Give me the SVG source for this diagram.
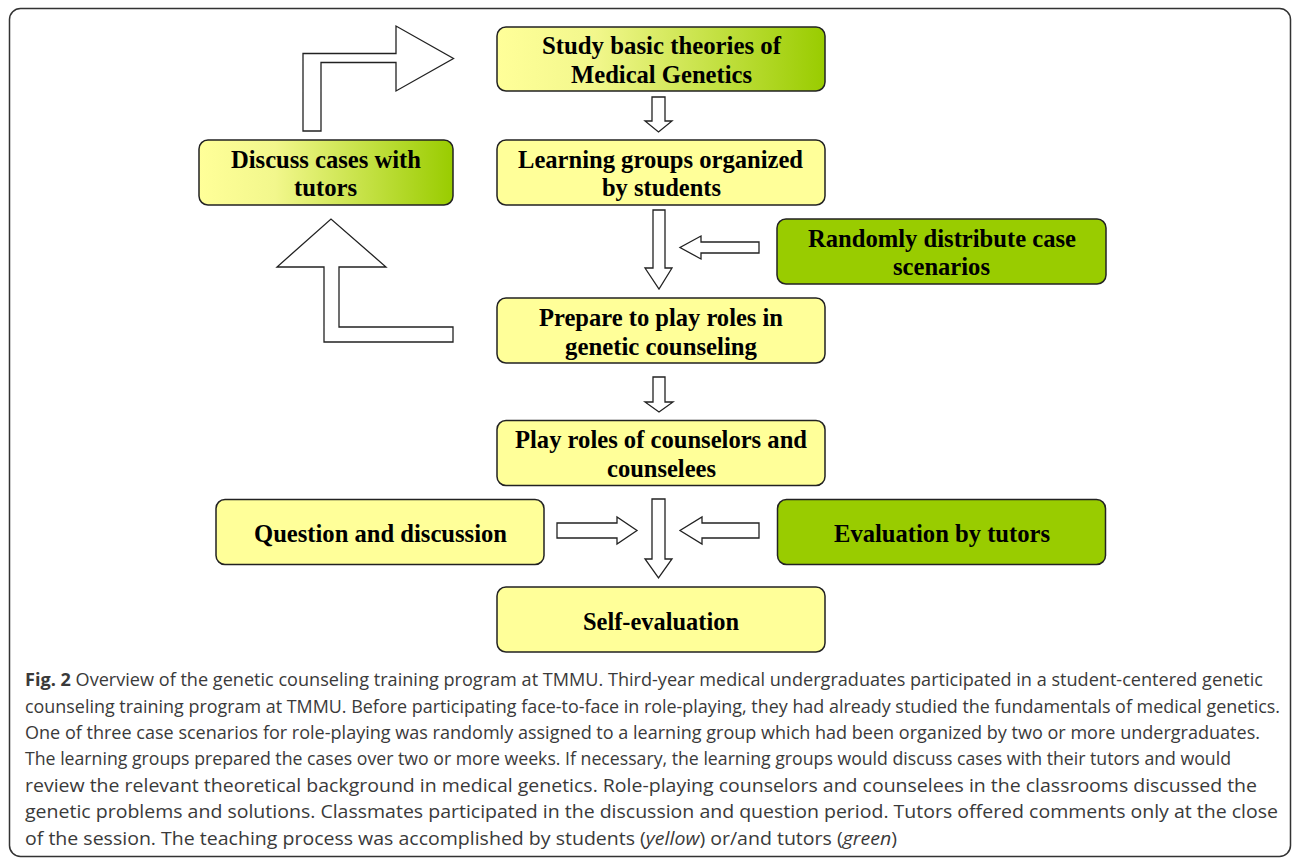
<svg xmlns="http://www.w3.org/2000/svg" width="1292" height="858" viewBox="0 0 1292 858">
<style>
.box{stroke:#222;stroke-width:1.5}
.y{fill:#ffff99}
.g{fill:#99cc00}
.gr{fill:url(#yg)}
.t{font-family:"Liberation Serif","Times New Roman",serif;font-weight:bold;font-size:25px;fill:#000;text-anchor:middle}
.arr{fill:#fff;stroke:#222;stroke-width:1.3;stroke-linejoin:miter}
.cap{font-family:"Open Sans","Liberation Sans",sans-serif;font-size:18px;fill:#3a3a3a}
</style>
<defs>
<linearGradient id="yg" x1="0" y1="0" x2="1" y2="0">
<stop offset="0" stop-color="#ffff99"/>
<stop offset="0.3" stop-color="#f2f78c"/>
<stop offset="1" stop-color="#99cc00"/>
</linearGradient>
</defs>
<rect x="9.5" y="8.5" width="1281" height="848" rx="11" fill="none" stroke="#333" stroke-width="1.5"/>

<g id="connectors">
<polygon class="arr" points="652,97 665,97 665,121 672,121 658.5,132 645,121 652,121"/>
<polygon class="arr" points="653,210 665,210 665,268 672,268 659,289 645,268 653,268"/>
<polygon class="arr" points="653,377 665,377 665,402 673,402 659,412 645,402 653,402"/>
<polygon class="arr" points="652,499 665,499 665,559 672,559 658.5,578 645,559 652,559"/>
<polygon class="arr" points="759,242 701,242 701,236 680,247.5 701,259 701,253 759,253"/>
<polygon class="arr" points="557,523 617,523 617,517 637,530.5 617,544 617,538 557,538"/>
<polygon class="arr" points="759,523 702,523 702,517 680,530.5 702,544 702,538 759,538"/>
<polygon class="arr" points="303,131 303,53.5 396,53.5 396,26 453.5,58.5 396,91 396,62.5 321,62.5 321,131"/>
<polygon class="arr" points="453,342 324,342 324,267 277,267 331,219 386,267 339,267 339,327 453,327"/>
</g>

<g id="n-study">
<rect class="box gr" x="497" y="27" width="328" height="64" rx="9"/>
<text class="t" x="661.5" y="53.5" textLength="239" lengthAdjust="spacingAndGlyphs">Study basic theories of</text>
<text class="t" x="661.5" y="82.5" textLength="181" lengthAdjust="spacingAndGlyphs">Medical Genetics</text>
</g>
<g id="n-discuss">
<rect class="box gr" x="199" y="140" width="254" height="65" rx="9"/>
<text class="t" x="326" y="167.5" textLength="190" lengthAdjust="spacingAndGlyphs">Discuss cases with</text>
<text class="t" x="325.5" y="196" textLength="63" lengthAdjust="spacingAndGlyphs">tutors</text>
</g>
<g id="n-learning">
<rect class="box y" x="497" y="140" width="328" height="65" rx="9"/>
<text class="t" x="660.5" y="167.5" textLength="285" lengthAdjust="spacingAndGlyphs">Learning groups organized</text>
<text class="t" x="661.5" y="196" textLength="119" lengthAdjust="spacingAndGlyphs">by students</text>
</g>
<g id="n-random">
<rect class="box g" x="777" y="219" width="329" height="65" rx="9"/>
<text class="t" x="942" y="246.5" textLength="268" lengthAdjust="spacingAndGlyphs">Randomly distribute case</text>
<text class="t" x="941.5" y="275" textLength="97" lengthAdjust="spacingAndGlyphs">scenarios</text>
</g>
<g id="n-prepare">
<rect class="box y" x="497" y="298" width="328" height="65" rx="9"/>
<text class="t" x="661" y="325.5" textLength="244" lengthAdjust="spacingAndGlyphs">Prepare to play roles in</text>
<text class="t" x="661" y="354.5" textLength="192" lengthAdjust="spacingAndGlyphs">genetic counseling</text>
</g>
<g id="n-play">
<rect class="box y" x="497" y="420.5" width="328" height="65" rx="9"/>
<text class="t" x="661" y="447.5" textLength="292" lengthAdjust="spacingAndGlyphs">Play roles of counselors and</text>
<text class="t" x="661.5" y="477" textLength="109" lengthAdjust="spacingAndGlyphs">counselees</text>
</g>
<g id="n-question">
<rect class="box y" x="216" y="499.5" width="328" height="65" rx="9"/>
<text class="t" x="380.5" y="541.5" textLength="253" lengthAdjust="spacingAndGlyphs">Question and discussion</text>
</g>
<g id="n-evaluation">
<rect class="box g" x="777.5" y="499.5" width="328" height="65" rx="9"/>
<text class="t" x="942" y="541.5" textLength="216" lengthAdjust="spacingAndGlyphs">Evaluation by tutors</text>
</g>
<g id="n-self">
<rect class="box y" x="497" y="587" width="328" height="65" rx="9"/>
<text class="t" x="661" y="629.5" textLength="156" lengthAdjust="spacingAndGlyphs">Self-evaluation</text>
</g>

<g id="caption" class="cap">
<text x="25" y="686" textLength="1238" lengthAdjust="spacingAndGlyphs"><tspan font-weight="bold">Fig. 2</tspan> Overview of the genetic counseling training program at TMMU. Third-year medical undergraduates participated in a student-centered genetic</text>
<text x="25" y="712.5" textLength="1255" lengthAdjust="spacingAndGlyphs">counseling training program at TMMU. Before participating face-to-face in role-playing, they had already studied the fundamentals of medical genetics.</text>
<text x="25" y="739" textLength="1235" lengthAdjust="spacingAndGlyphs">One of three case scenarios for role-playing was randomly assigned to a learning group which had been organized by two or more undergraduates.</text>
<text x="25" y="765" textLength="1206" lengthAdjust="spacingAndGlyphs">The learning groups prepared the cases over two or more weeks. If necessary, the learning groups would discuss cases with their tutors and would</text>
<text x="25" y="791.5" textLength="1232" lengthAdjust="spacingAndGlyphs">review the relevant theoretical background in medical genetics. Role-playing counselors and counselees in the classrooms discussed the</text>
<text x="25" y="818" textLength="1253" lengthAdjust="spacingAndGlyphs">genetic problems and solutions. Classmates participated in the discussion and question period. Tutors offered comments only at the close</text>
<text x="25" y="844.5" textLength="872" lengthAdjust="spacingAndGlyphs">of the session. The teaching process was accomplished by students (<tspan font-style="italic">yellow</tspan>) or/and tutors (<tspan font-style="italic">green</tspan>)</text>
</g>
</svg>
